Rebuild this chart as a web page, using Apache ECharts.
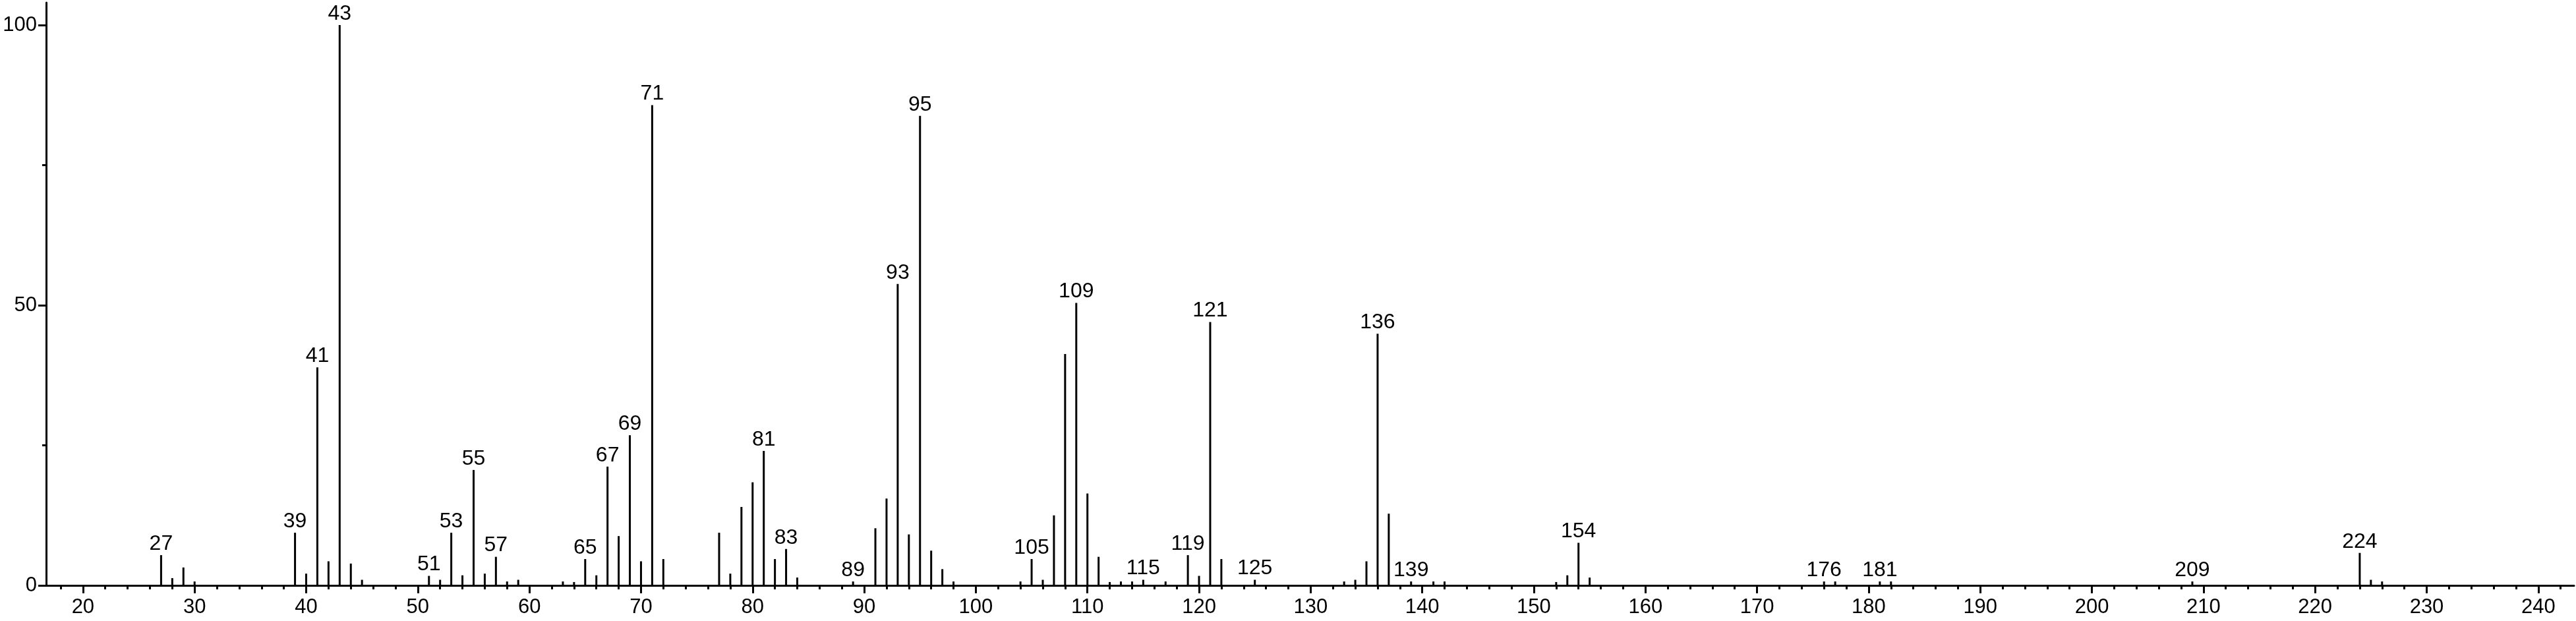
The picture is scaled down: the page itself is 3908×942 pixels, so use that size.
<!DOCTYPE html>
<html><head><meta charset="utf-8">
<script src="https://cdn.jsdelivr.net/npm/echarts@6/dist/echarts.min.js"></script>
<style>html,body{margin:0;padding:0;background:#fff}#c{width:3908px;height:942px}</style>
</head><body><div id="c"></div>
<script>
// m/z values of the peaks
const mz = [27,28,29,30,39,40,41,42,43,44,45,51,52,53,54,55,56,57,58,59,63,64,65,66,67,68,69,70,71,72,
  77,78,79,80,81,82,83,84,89,91,92,93,94,95,96,97,98,104,105,106,107,108,109,110,111,112,113,114,115,117,
  119,120,121,122,125,133,134,135,136,137,139,141,142,152,153,154,155,176,177,181,182,209,224,225,226];
// relative intensities (%)
const intensity = [5.4,1.3,3.2,0.7,9.4,2.1,38.9,4.3,100,3.9,1.0,1.7,1.0,9.4,1.8,20.6,2.1,5.1,0.7,1.0,0.7,0.6,4.7,1.8,21.2,8.8,26.8,4.3,85.7,4.7,
  9.4,2.1,14.0,18.4,24.0,4.7,6.5,1.4,0.7,10.2,15.5,53.8,9.1,83.8,6.2,2.9,0.7,0.7,4.7,1.0,12.5,41.3,50.4,16.4,5.1,0.6,0.7,0.7,1.0,0.7,
  5.4,1.7,47.0,4.7,1.0,0.7,1.0,4.3,44.9,12.8,0.7,0.7,0.7,0.6,1.8,7.6,1.4,0.7,0.7,0.7,0.7,0.7,5.8,1.0,0.7];
// peaks annotated with their m/z
const labeledPeaks = [27,39,41,43,51,53,55,57,65,67,69,71,81,83,89,93,95,105,109,115,119,121,125,136,139,154,176,181,209,224];
// axis ticks
const xMajorTicks = [20,30,40,50,60,70,80,90,100,110,120,130,140,150,160,170,180,190,200,210,220,230,240];
const xMinorTicks = [18,22,24,26,28,32,34,36,38,42,44,46,48,52,54,56,58,62,64,66,68,72,74,76,78,82,84,86,88,
  92,94,96,98,102,104,106,108,112,114,116,118,122,124,126,128,132,134,136,138,142,144,146,148,152,154,156,158,
  162,164,166,168,172,174,176,178,182,184,186,188,192,194,196,198,202,204,206,208,212,214,216,218,222,224,226,228,
  232,234,236,238,242];
const yMajorTicks = [0,50,100];
const yMinorTicks = [25,75];
const xRange = [16.7, 243.2];
const yRange = [0, 104];

const FONT = "'Liberation Sans', Arial, Helvetica, sans-serif";
const chart = echarts.init(document.getElementById('c'), null, {renderer: 'canvas'});
const seriesData = mz.map((m, i) => ({
  value: [m, intensity[i]],
  label: {show: labeledPeaks.indexOf(m) >= 0}
}));
const baseX = {
  type: 'value', min: xRange[0], max: xRange[1], position: 'bottom', gridIndex: 0,
  splitLine: {show: false}
};
const baseY = {
  type: 'value', min: yRange[0], max: yRange[1], position: 'left', gridIndex: 0,
  splitLine: {show: false}
};
chart.setOption({
  animation: false,
  backgroundColor: '#ffffff',
  grid: {left: 70, right: 3, top: 4, bottom: 54, containLabel: false, outerBoundsMode: 'none'},
  xAxis: [
    Object.assign({}, baseX, {
      axisLine: {show: true, onZero: false, lineStyle: {color: '#000', width: 3}},
      axisTick: {show: true, inside: false, length: 12, customValues: xMajorTicks, lineStyle: {color: '#000', width: 3}},
      axisLabel: {show: true, customValues: xMajorTicks, margin: 18, color: '#000', fontSize: 31, fontFamily: FONT}
    }),
    Object.assign({}, baseX, {
      axisLine: {show: false, onZero: false},
      axisTick: {show: true, inside: false, length: 6, customValues: xMinorTicks, lineStyle: {color: '#000', width: 3}},
      axisLabel: {show: false}
    })
  ],
  yAxis: [
    Object.assign({}, baseY, {
      axisLine: {show: true, onZero: false, lineStyle: {color: '#000', width: 3}},
      axisTick: {show: true, inside: false, length: 12, customValues: yMajorTicks, lineStyle: {color: '#000', width: 3}},
      axisLabel: {show: true, customValues: yMajorTicks, margin: 14, color: '#000', fontSize: 31, fontFamily: FONT}
    }),
    Object.assign({}, baseY, {
      axisLine: {show: false, onZero: false},
      axisTick: {show: true, inside: false, length: 6, customValues: yMinorTicks, lineStyle: {color: '#000', width: 3}},
      axisLabel: {show: false}
    })
  ],
  series: [{
    type: 'bar',
    xAxisIndex: 0, yAxisIndex: 0,
    barWidth: 3,
    itemStyle: {color: '#000'},
    label: {
      position: 'top', distance: 1, color: '#000', fontSize: 32, fontFamily: FONT,
      formatter: p => String(p.value[0])
    },
    labelLayout: {hideOverlap: false},
    data: seriesData
  }]
});
</script>
</body></html>
